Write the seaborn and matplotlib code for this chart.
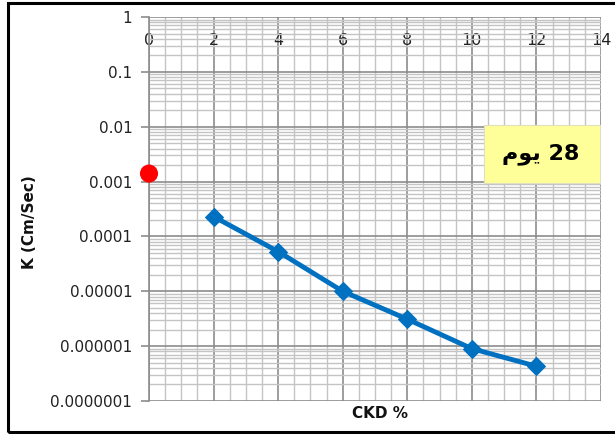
import matplotlib
matplotlib.use("Agg")
import matplotlib.pyplot as plt
import matplotlib.ticker as mticker
from matplotlib.patches import Rectangle
import seaborn as sns
import pandas as pd
import numpy as np

# Data
ckd = [2, 4, 6, 8, 10, 12]
k_values = [0.00023, 0.000053, 0.00001, 0.0000031, 0.0000009, 0.00000043]
ref_x = [0]
ref_k = [0.0014]
x_ticks = [0, 2, 4, 6, 8, 10, 12, 14]
y_ticks = [1, 0.1, 0.01, 0.001, 0.0001, 0.00001, 0.000001, 0.0000001]
y_tick_labels = ["1", "0.1", "0.01", "0.001", "0.0001", "0.00001", "0.000001", "0.0000001"]
x_label = "CKD %"
y_label = "K (Cm/Sec)"
box_text = "\uFEE1\uFEEE\uFEF3 28"  # "28 يوم" in visual (shaped) order

sns.set_theme(style="white")
plt.rcParams['font.family'] = ['DejaVu Sans']

W, H = 615, 434
fig = plt.figure(figsize=(W / 100, H / 100), dpi=100)
ax = fig.add_axes([149 / W, 1 - 401 / H, (601 - 149) / W, (401 - 17) / H])

df = pd.DataFrame({"CKD": ckd, "K": k_values})
dref = pd.DataFrame({"CKD": ref_x, "K": ref_k})

ax.set_yscale("log")
ax.set_xlim(0, 14)
ax.set_ylim(1e-7, 1)

# grid
ax.set_xticks(x_ticks)
ax.xaxis.set_minor_locator(mticker.MultipleLocator(0.5))
ax.yaxis.set_major_locator(mticker.FixedLocator(y_ticks))
ax.yaxis.set_minor_locator(mticker.LogLocator(base=10, subs=np.arange(2, 10) * 1.0, numticks=20))
ax.yaxis.set_minor_formatter(mticker.NullFormatter())
ax.set_yticklabels(y_tick_labels)
ax.grid(True, which="major", color="#8c8c8c", linewidth=1.2)
ax.grid(True, which="minor", color="#c4c4c4", linewidth=1.0)
ax.set_axisbelow(True)

sns.lineplot(data=df, x="CKD", y="K", ax=ax, color="#0070C0", linewidth=3.5,
             marker="D", markersize=9, markeredgecolor="#0070C0", zorder=3)
sns.scatterplot(data=dref, x="CKD", y="K", ax=ax, color="#FF0000", s=170,
                edgecolor="none", zorder=4, clip_on=False)

for s in ["top", "right", "bottom"]:
    ax.spines[s].set_visible(False)
ax.spines["left"].set_color("#8c8c8c")
ax.spines["left"].set_linewidth(1.2)

ax.tick_params(axis="y", which="major", left=True, length=6, width=1.2, color="#8c8c8c",
               labelsize=11, labelcolor="#222222", pad=6)
ax.tick_params(axis="y", which="minor", left=False)
ax.tick_params(axis="x", which="both", bottom=False, labelbottom=False, top=False,
               labeltop=True, labelsize=11.5, labelcolor="#222222", pad=-28)

ax.set_xlabel("")
ax.set_ylabel("")
fig.text(380 / W, 1 - 413 / H, x_label, ha="center", va="center", fontsize=11,
         fontweight="bold", color="#111111")
fig.text(29 / W, 1 - 222 / H, y_label, ha="center", va="center", fontsize=11,
         fontweight="bold", rotation=90, color="#111111")

# yellow text box
fig.patches.append(Rectangle((484 / W, 1 - 183 / H), (600 - 484) / W, (183 - 125) / H,
                             transform=fig.transFigure, facecolor="#FFFF99",
                             edgecolor="#e0e0c0", linewidth=0.8, zorder=5))
fig.text(541 / W, 1 - 154 / H, box_text, ha="center", va="center", fontsize=16,
         fontweight="bold", color="black", zorder=6)

# outer border (open on the right, as in the reference crop)
fig.patches.append(Rectangle((8 / W, 1 - 432 / H), (W + 40) / W, (432 - 3) / H,
                             transform=fig.transFigure, facecolor="none",
                             edgecolor="black", linewidth=2.2, clip_on=False, zorder=10))

fig.savefig("out.png", dpi=100)
